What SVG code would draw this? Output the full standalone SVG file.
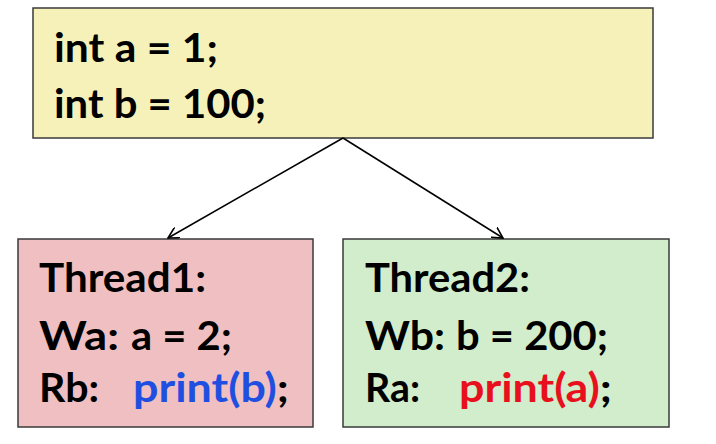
<svg xmlns="http://www.w3.org/2000/svg" width="716" height="444" viewBox="0 0 716 444">
<style>
.box{stroke:#3a3a3a;stroke-width:1.5}
.t{font-family:Lato,"Open Sans","DejaVu Sans",sans-serif;font-weight:bold;font-size:41px;fill:#000}
.edge{stroke:#000;stroke-width:1.5;fill:none}
</style>
<defs>
<marker id="arr" viewBox="0 0 12 12" refX="11" refY="6" markerWidth="12" markerHeight="12" markerUnits="userSpaceOnUse" orient="auto">
<path d="M0,0 L11,6 L0,12" fill="none" stroke="#000" stroke-width="1.6"/>
</marker>
</defs>
<g id="init">
<rect class="box" x="33" y="8" width="620" height="130" fill="#f5f1b9"/>
<text class="t" x="54" y="62" textLength="164" lengthAdjust="spacingAndGlyphs">int a = 1;</text>
<text class="t" x="54" y="118" textLength="212" lengthAdjust="spacingAndGlyphs">int b = 100;</text>
</g>
<g id="thread1">
<rect class="box" x="18" y="239" width="295" height="188" fill="#efbfc1"/>
<text class="t" x="39" y="292" textLength="167" lengthAdjust="spacingAndGlyphs">Thread1:</text>
<text class="t" x="39" y="350" textLength="80" lengthAdjust="spacingAndGlyphs">Wa:</text>
<text class="t" x="131" y="350" textLength="101" lengthAdjust="spacingAndGlyphs">a = 2;</text>
<text class="t" x="39" y="402" textLength="60" lengthAdjust="spacingAndGlyphs">Rb:</text>
<text class="t" x="133" y="402" textLength="156" lengthAdjust="spacingAndGlyphs"><tspan fill="#1f4fe0">print(b)</tspan>;</text>
</g>
<g id="thread2">
<rect class="box" x="343" y="239" width="326" height="188" fill="#d1edcc"/>
<text class="t" x="365" y="292" textLength="165" lengthAdjust="spacingAndGlyphs">Thread2:</text>
<text class="t" x="365" y="350" textLength="80" lengthAdjust="spacingAndGlyphs">Wb:</text>
<text class="t" x="456" y="350" textLength="152" lengthAdjust="spacingAndGlyphs">b = 200;</text>
<text class="t" x="365" y="402" textLength="55" lengthAdjust="spacingAndGlyphs">Ra:</text>
<text class="t" x="459" y="402" textLength="153" lengthAdjust="spacingAndGlyphs"><tspan fill="#e8101c">print(a)</tspan>;</text>
</g>
<g id="connectors">
<line class="edge" x1="343" y1="138" x2="168" y2="238" marker-end="url(#arr)"/>
<line class="edge" x1="343" y1="138" x2="503" y2="238" marker-end="url(#arr)"/>
</g>
</svg>
